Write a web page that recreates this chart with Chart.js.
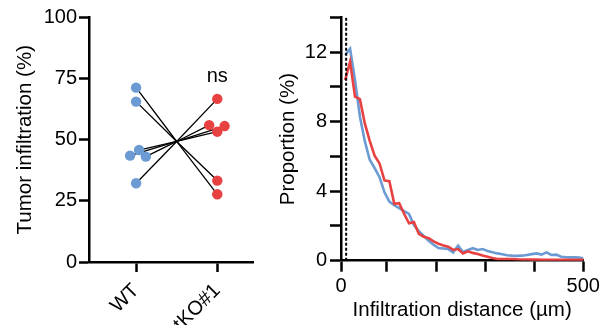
<!DOCTYPE html>
<html><head><meta charset="utf-8">
<script src="https://cdn.jsdelivr.net/npm/chart.js@4"></script>
<style>
html,body{margin:0;padding:0;background:#fff;}
#wrap{position:relative;width:603px;height:325px;overflow:hidden;background:#fff;}
#c1{position:absolute;left:0;top:0;}
#c2{position:absolute;left:270px;top:0;}
</style></head><body>
<div id="wrap"><canvas id="c1" width="270" height="325"></canvas><canvas id="c2" width="333" height="325"></canvas></div>
<script>
// ---------- Left panel data ----------
const groups = ['WT', 'tKO#1'];
const wtValues = [71.3, 65.6, 45.8, 43.5, 43.1, 32.2];
const wtJitter = [0, 0, 0.037, -0.074, 0.12, 0];
const tkoValues = [33.3, 27.7, 56.0, 55.6, 53.3, 66.7];
const tkoJitter = [0, 0, -0.1, 0.09, 0, 0];
const crossValue = 49.3;
const leftYTicks = [0, 25, 50, 75, 100];
const sigLabel = 'ns';
const sigValue = 76;

// ---------- Right panel data ----------
const distance = [15,25,35,45,55,65,75,85,95,105,115,125,135,145,155,165,175,185,195,205,
  215,225,235,245,255,265,275,285,295,305,315,325,335,345,355,365,375,385,395,405,
  415,425,435,445,455,465,475,485,495,505];
const wtProportion = [11.83,12.2,10.4,8.3,6.88,5.81,5.33,4.81,3.94,3.4,3.19,3.02,2.85,2.69,2.05,1.7,1.42,1.15,0.92,0.73,
  0.7,0.67,0.48,0.87,0.5,0.62,0.72,0.62,0.67,0.56,0.48,0.42,0.37,0.31,0.29,0.28,0.29,0.33,0.38,0.42,
  0.35,0.48,0.33,0.35,0.23,0.2,0.19,0.19,0.17,0.1];
const tkoProportion = [10.4,11.45,9.45,9.3,7.9,6.9,6.05,5.6,4.62,4.58,3.27,3.31,2.7,2.15,2.22,1.54,1.38,1.3,1.11,0.98,
  0.88,0.81,0.62,0.67,0.42,0.54,0.45,0.38,0.3,0.23,0.16,0.1,0.1,0.1,0.1,0.08,0.07,0.07,0.06,0.06,
  0.05,0.05,0.05,0.05,0.05,0.05,0.05,0.05,0.05,0.05];
const thresholdDistance = 17;
const rightXMin = 6.5;
const rightXTicks = [6.5, 100, 200, 300, 400, 500];
const rightXLabels = ['0', '', '', '', '', '500'];
const rightYTicks = [0, 2, 4, 6, 8, 10, 12, 14];
const rightYLabels = ['0', '', '4', '', '8', '', '12', ''];

const BLUE = '#6b9bd2';
const RED = '#e84141';
const FONT = "'Liberation Sans', Arial, Helvetica, sans-serif";
Chart.defaults.color = '#000';
Chart.defaults.font.family = FONT;

const tickFont = {size: 20, family: FONT};
const titleFont = {size: 20.5, family: FONT};

// ---------- Left chart ----------
const leftDatasets = [
  {type: 'scatter', data: wtValues.map((v, i) => ({x: 1 + wtJitter[i], y: v})),
   pointRadius: 5.2, pointBackgroundColor: BLUE, pointBorderWidth: 0, pointHoverRadius: 5},
  {type: 'scatter', data: tkoValues.map((v, i) => ({x: 2 + tkoJitter[i], y: v})),
   pointRadius: 5.2, pointBackgroundColor: RED, pointBorderWidth: 0, pointHoverRadius: 5}
];
wtValues.forEach((v, i) => {
  leftDatasets.push({
    type: 'line',
    data: [{x: 1 + wtJitter[i], y: v}, {x: 1.5, y: crossValue}, {x: 2 + tkoJitter[i], y: tkoValues[i]}],
    borderColor: '#000', borderWidth: 1.3, pointRadius: 0, tension: 0, fill: false
  });
});

const nsPlugin = {
  id: 'nsText',
  afterDatasetsDraw(chart) {
    const {ctx, scales} = chart;
    ctx.save();
    ctx.font = `20px ${FONT}`;
    ctx.fillStyle = '#000';
    ctx.textAlign = 'center';
    ctx.textBaseline = 'middle';
    ctx.fillText(sigLabel, scales.x.getPixelForValue(2), scales.y.getPixelForValue(sigValue));
    ctx.restore();
  }
};

new Chart(document.getElementById('c1'), {
  data: {datasets: leftDatasets},
  options: {
    responsive: false, animation: false, devicePixelRatio: 1,
    layout: {padding: {top: 17.5, right: 17, left: 0, bottom: 0}},
    plugins: {legend: {display: false}, tooltip: {enabled: false}},
    scales: {
      x: {
        type: 'linear', min: 0.42, max: 2.44,
        afterBuildTicks: s => { s.ticks = [{value: 1}, {value: 2}]; },
        afterFit: s => { s.height = 63; },
        ticks: {font: tickFont, minRotation: 45, maxRotation: 45, padding: 7,
          callback: v => groups[Math.round(v) - 1]},
        grid: {drawOnChartArea: false, tickLength: 10, tickWidth: 2.5, tickColor: '#000'},
        border: {display: true, color: '#000', width: 2.5}
      },
      y: {
        type: 'linear', min: 0, max: 100,
        afterBuildTicks: s => { s.ticks = leftYTicks.map(v => ({value: v})); },
        afterFit: s => { s.width = 89; },
        ticks: {font: tickFont, padding: 2},
        grid: {drawOnChartArea: false, tickLength: 10, tickWidth: 2.5, tickColor: '#000'},
        border: {display: true, color: '#000', width: 2.5},
        title: {display: true, text: 'Tumor infiltration (%)', font: titleFont, padding: {top: 12.7, bottom: 0}}
      }
    }
  },
  plugins: [nsPlugin]
});

// ---------- Right chart ----------
new Chart(document.getElementById('c2'), {
  type: 'line',
  data: {
    datasets: [
      {data: [{x: thresholdDistance, y: 0}, {x: thresholdDistance, y: 14}],
       borderColor: '#000', borderWidth: 2, borderDash: [3, 2], pointRadius: 0, order: 0},
      {data: distance.map((d, i) => ({x: d, y: tkoProportion[i]})),
       borderColor: RED, borderWidth: 2.6, pointRadius: 0, tension: 0, order: 1},
      {data: distance.map((d, i) => ({x: d, y: wtProportion[i]})),
       borderColor: BLUE, borderWidth: 2.6, pointRadius: 0, tension: 0, order: 2}
    ]
  },
  options: {
    responsive: false, animation: false, devicePixelRatio: 1,
    layout: {padding: {top: 17.5, right: 19.7, left: 0, bottom: 0}},
    plugins: {legend: {display: false}, tooltip: {enabled: false}},
    scales: {
      x: {
        type: 'linear', min: rightXMin, max: 500,
        afterBuildTicks: s => { s.ticks = rightXTicks.map(v => ({value: v})); },
        afterFit: s => { s.height = 64.3; },
        ticks: {font: tickFont, padding: 3, maxRotation: 0, minRotation: 0,
          callback: (v, i) => rightXLabels[i]},
        grid: {drawOnChartArea: false, tickLength: 11, tickWidth: 2.5, tickColor: '#000'},
        border: {display: true, color: '#000', width: 2.5},
        title: {display: true, text: 'Infiltration distance (µm)', font: titleFont, padding: {top: 0, bottom: 2.7}}
      },
      y: {
        type: 'linear', min: 0, max: 14,
        afterBuildTicks: s => { s.ticks = rightYTicks.map(v => ({value: v})); },
        afterFit: s => { s.width = 71; },
        ticks: {font: tickFont, padding: 3, callback: (v, i) => rightYLabels[i]},
        grid: {drawOnChartArea: false, tickLength: 11, tickWidth: 2.5, tickColor: '#000'},
        border: {display: true, color: '#000', width: 2.5},
        title: {display: true, text: 'Proportion (%)', font: titleFont, padding: {top: 6, bottom: 0}}
      }
    }
  }
});
</script>
</body></html>
